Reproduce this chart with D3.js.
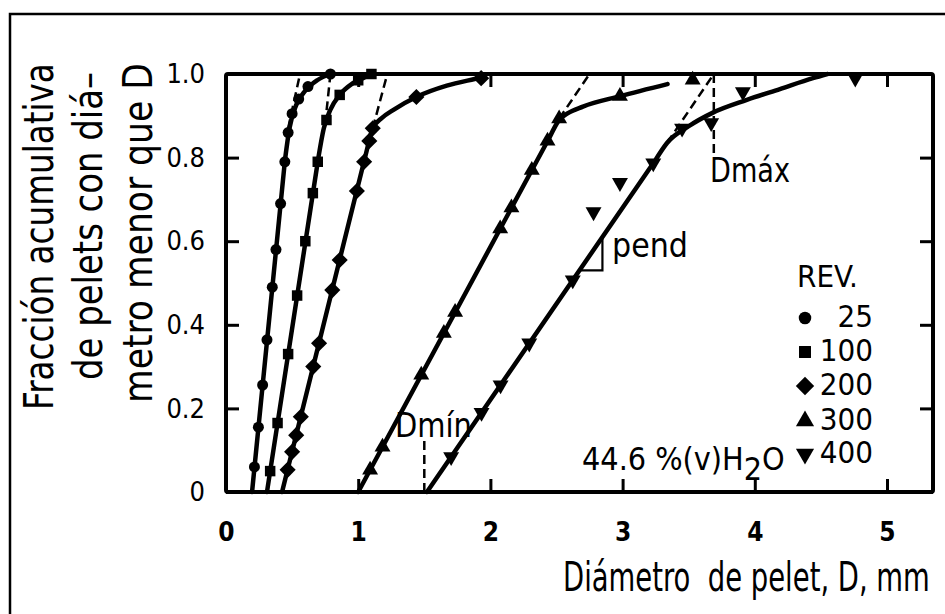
<!DOCTYPE html>
<html><head><meta charset="utf-8">
<script src="https://cdn.jsdelivr.net/npm/d3@7"></script>
<style>
html,body{margin:0;padding:0;background:#fff;}
svg{display:block;}
text{font-family:"DejaVu Sans Condensed","DejaVu Sans",sans-serif;fill:#000;}
</style></head><body>
<svg id="chart" width="945" height="614"></svg>
<script>
// ---- axis ticks ----
const xTicks = [0, 1, 2, 3, 4, 5];
const yTicks = [0, 0.2, 0.4, 0.6, 0.8, 1.0];
const yTickLabels = ["0", "0.2", "0.4", "0.6", "0.8", "1.0"];

// ---- series: revolutions ----
const revLabels = ["25", "100", "200", "300", "400"];

// measured points [diameter D (mm), cumulative fraction]
const pts25 = [[0.215,0.06],[0.245,0.155],[0.277,0.256],[0.31,0.364],[0.35,0.49],[0.378,0.58],[0.413,0.69],[0.445,0.79],[0.47,0.86],[0.5,0.905],[0.55,0.94],[0.62,0.97],[0.79,1.0]];
const pts100 = [[0.334,0.05],[0.39,0.165],[0.47,0.33],[0.538,0.47],[0.6,0.6],[0.657,0.715],[0.694,0.79],[0.76,0.89],[0.86,0.95],[1.0,0.985],[1.1,1.0]];
const pts200 = [[0.466,0.053],[0.5,0.096],[0.531,0.136],[0.566,0.18],[0.66,0.3],[0.704,0.356],[0.804,0.483],[0.86,0.555],[0.99,0.72],[1.045,0.79],[1.084,0.84],[1.11,0.87],[1.44,0.945],[1.93,0.99]];
const pts300 = [[1.09,0.053],[1.184,0.108],[1.477,0.28],[1.648,0.38],[1.733,0.43],[2.074,0.63],[2.159,0.68],[2.313,0.77],[2.432,0.84],[2.52,0.893],[2.98,0.947],[3.53,0.986]];
const pts400 = [[1.703,0.084],[1.933,0.19],[2.077,0.256],[2.294,0.356],[2.623,0.507],[2.78,0.67],[2.98,0.74],[3.232,0.787],[3.45,0.87],[3.67,0.883],[3.91,0.957],[4.76,0.99]];

// fitted curves: straight part [bottom, knee] and the bend above the knee
const line25 = [[0.197,0],[0.446,0.794]];
const bend25 = [[0.446,0.794],[0.48,0.87],[0.53,0.925],[0.6,0.96],[0.69,0.985],[0.79,1.0]];
const line100 = [[0.31,0],[0.696,0.794]];
const bend100 = [[0.696,0.794],[0.74,0.87],[0.79,0.915],[0.86,0.95],[0.96,0.978],[1.07,0.995],[1.1,1.0]];
const line200 = [[0.424,0],[1.067,0.82]];
const bend200 = [[1.067,0.82],[1.11,0.87],[1.18,0.895],[1.27,0.915],[1.44,0.945],[1.67,0.972],[1.88,0.988],[1.95,0.993]];
const line300 = [[1.0,0],[2.45,0.85]];
const bend300 = [[2.45,0.85],[2.52,0.89],[2.58,0.905],[2.7,0.922],[2.98,0.947],[3.34,0.976]];
const line400 = [[1.52,0],[3.25,0.795]];
const bend400 = [[3.25,0.795],[3.336,0.835],[3.5,0.875],[3.68,0.907],[3.94,0.938],[4.19,0.964],[4.44,0.99],[4.55,1.0]];

// straight-line extrapolations up to fraction 1 (D max)
const ext25 = [[0.47,0.87],[0.56,1.0]];
const ext100 = [[0.75,0.88],[0.79,1.0]];
const ext200 = [[1.11,0.87],[1.22,1.0]];
const ext300 = [[2.52,0.893],[2.75,1.0]];
const ext400 = [[3.336,0.835],[3.69,1.0]];

// D min / D max guides of the 400 rev curve
const dMin = 1.5, dMinTop = 0.125;
const dMax = 3.69, dMaxBottom = 0.81;
// slope triangle on the 400 rev line (fractions)
const pendF = [0.53, 0.61];

const series = [
  {rev: revLabels[0], pts: pts25, line: line25, bend: bend25, ext: ext25, shape: "circle"},
  {rev: revLabels[1], pts: pts100, line: line100, bend: bend100, ext: ext100, shape: "square"},
  {rev: revLabels[2], pts: pts200, line: line200, bend: bend200, ext: ext200, shape: "diamond"},
  {rev: revLabels[3], pts: pts300, line: line300, bend: bend300, ext: ext300, shape: "up"},
  {rev: revLabels[4], pts: pts400, line: line400, bend: bend400, ext: ext400, shape: "down"}
];

const svg = d3.select("#chart");
const pLeft = 226, pRight = 933, pTop = 74, pBottom = 492;
const x = d3.scaleLinear().domain([0, 5.348]).range([pLeft, pRight]);
const y = d3.scaleLinear().domain([0, 1]).range([pBottom, pTop]);

// outer frame (top and left edges)
svg.append("path").attr("d", "M10,614 L10,14 L945,14")
  .attr("fill", "none").attr("stroke", "#000").attr("stroke-width", 2.5);

// symbol generators
const sym = {
  circle: {type: d3.symbolCircle, size: 95, rot: 0},
  square: {type: d3.symbolSquare, size: 110, rot: 0},
  diamond: {type: d3.symbolSquare, size: 130, rot: 45},
  up: {type: d3.symbolTriangle, size: 110, rot: 0},
  down: {type: d3.symbolTriangle, size: 110, rot: 180}
};
function symbolPath(shape, k = 1) { return d3.symbol().type(sym[shape].type).size(sym[shape].size * k)(); }

const plot = svg.append("g");
const curved = d3.line().x(d => x(d[0])).y(d => y(d[1])).curve(d3.curveMonotoneX);
const straight = d3.line().x(d => x(d[0])).y(d => y(d[1]));

// fitted curves
plot.selectAll(".fit").data(series).join("path")
  .attr("class", "fit").attr("d", d => straight(d.line) + curved(d.bend).replace(/^M[^LC]*/, ""))
  .attr("fill", "none").attr("stroke", "#000").attr("stroke-width", 4.5)
  .attr("stroke-linecap", "round").attr("stroke-linejoin", "round");

// dashed extrapolations
plot.selectAll(".ext").data(series).join("path")
  .attr("class", "ext").attr("d", d => straight(d.ext))
  .attr("fill", "none").attr("stroke", "#000").attr("stroke-width", 2.5)
  .attr("stroke-dasharray", "9,5");

// D min and D max guides
plot.append("path").attr("d", straight([[dMin, 0], [dMin, dMinTop]]))
  .attr("stroke", "#000").attr("stroke-width", 2.5).attr("stroke-dasharray", "9,5");
plot.append("path").attr("d", straight([[dMax, 1], [dMax, dMaxBottom]]))
  .attr("stroke", "#000").attr("stroke-width", 2.5).attr("stroke-dasharray", "9,5");

// slope triangle
const l400 = f => line400[0][0] + (line400[1][0] - line400[0][0]) / line400[1][1] * f;
plot.append("path")
  .attr("d", straight([[l400(pendF[0]), pendF[0]], [l400(pendF[1]), pendF[0]], [l400(pendF[1]), pendF[1]]]))
  .attr("fill", "none").attr("stroke", "#000").attr("stroke-width", 2.2);

// data markers
series.forEach(s => {
  plot.selectAll(null).data(s.pts).join("path")
    .attr("d", symbolPath(s.shape))
    .attr("transform", d => `translate(${x(d[0])},${y(d[1])}) rotate(${sym[s.shape].rot})`)
    .attr("fill", "#000");
});

// axes: inward ticks on all four sides
const tk = 13;
const gB = svg.append("g").attr("transform", `translate(0,${pBottom})`)
  .call(d3.axisBottom(x).tickValues(xTicks).tickSizeInner(-tk).tickSizeOuter(0).tickPadding(31).tickFormat(d3.format("d")));
const gT = svg.append("g").attr("transform", `translate(0,${pTop})`)
  .call(d3.axisTop(x).tickValues(xTicks).tickSizeInner(-tk).tickSizeOuter(0).tickFormat(""));
const gL = svg.append("g").attr("transform", `translate(${pLeft},0)`)
  .call(d3.axisLeft(y).tickValues(yTicks).tickSizeInner(-tk).tickSizeOuter(0).tickPadding(21).tickFormat((d, i) => yTickLabels[i]));
const gR = svg.append("g").attr("transform", `translate(${pRight},0)`)
  .call(d3.axisRight(y).tickValues(yTicks).tickSizeInner(-tk).tickSizeOuter(0).tickFormat(""));
[gB, gT, gL, gR].forEach(g => {
  g.select(".domain").remove();
  g.selectAll("line").attr("stroke", "#000").attr("stroke-width", 3);
});
gB.selectAll("text").attr("font-size", 26).attr("font-weight", "bold")
  .attr("font-family", "'DejaVu Sans Condensed','DejaVu Sans',sans-serif");
gL.selectAll("text").attr("font-size", 27)
  .attr("font-family", "'DejaVu Sans Condensed','DejaVu Sans',sans-serif");

// plot frame
svg.append("rect").attr("x", pLeft).attr("y", pTop).attr("width", pRight - pLeft).attr("height", pBottom - pTop)
  .attr("fill", "none").attr("stroke", "#000").attr("stroke-width", 4).attr("rx", 2);

// narrow lettering: place a text and squeeze it horizontally to a set run length
function narrow(str, x0, y0, size, len, rot = 0) {
  const t = svg.append("text").attr("font-size", size).style("white-space", "pre").text(str);
  const natural = t.node().getComputedTextLength();
  t.attr("transform", `translate(${x0},${y0}) rotate(${rot}) scale(${len / natural},1)`);
  return t;
}

// axis titles (rotated, read bottom to top)
const yTitle = ["Fracción acumulativa", "de pelets con diá–", "metro menor que D"];
const yTitlePos = [[53, 410, 347], [102, 380, 308], [152, 403, 340]];
yTitle.forEach((s, i) => narrow(s, yTitlePos[i][0], yTitlePos[i][1], 41, yTitlePos[i][2], -90));
narrow("Diámetro  de pelet, D, mm", 563, 591, 41, 367);

// annotations
narrow("Dmín", 395, 437, 34, 77);
narrow("Dmáx", 710, 182, 34, 80);
narrow("pend", 612, 257, 33, 76);
const h2o = svg.append("text").attr("x", 582).attr("y", 470).attr("font-size", 32);
h2o.append("tspan").text("44.6 %(v)H");
h2o.append("tspan").attr("dy", 10).text("2");
h2o.append("tspan").attr("dy", -10).text("O");

// legend
svg.append("text").attr("x", 797).attr("y", 287).attr("font-size", 31).text("REV.");
const legY = [327, 361, 395, 430, 463];
const lg = svg.selectAll(".leg").data(series).join("g").attr("class", "leg");
lg.append("path").attr("d", d => symbolPath(d.shape, 1.3))
  .attr("transform", (d, i) => `translate(805,${legY[i] - 9}) rotate(${sym[d.shape].rot})`);
lg.append("text").attr("x", 873).attr("y", (d, i) => legY[i]).attr("text-anchor", "end")
  .attr("font-size", 31).text(d => d.rev);
</script>
</body></html>
